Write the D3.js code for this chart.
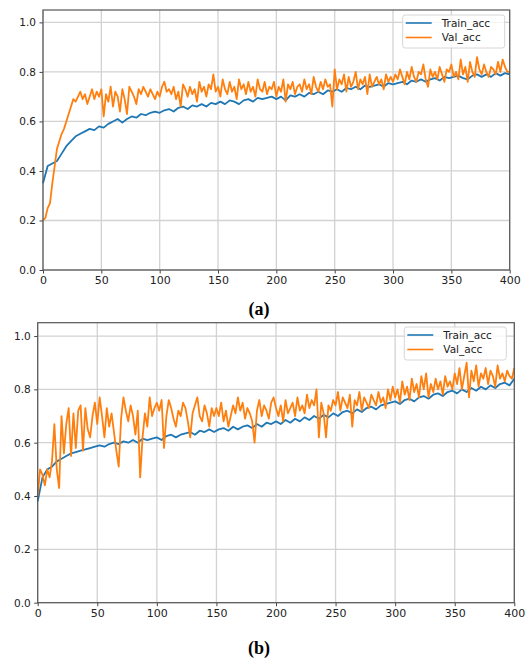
<!DOCTYPE html>
<html>
<head>
<meta charset="utf-8">
<script src="https://cdn.jsdelivr.net/npm/d3@7"></script>
<style>
  body { margin: 0; background: #fff; }
  .tick text { font-family: "DejaVu Sans", sans-serif; fill: #222; }
  .tick line { stroke: #444; }
</style>
</head>
<body>
<div id="chart"></div>
<script>
// data: train every 4 epochs, val every 2 epochs
var seriesNames = ["Train_acc", "Val_acc"];
var seriesColors = ["#1f77b4", "#ff7f0e"];
var xTicks = [0, 50, 100, 150, 200, 250, 300, 350, 400];
var yTicks = [0.0, 0.2, 0.4, 0.6, 0.8, 1.0];
var panelLabels = ["(a)", "(b)"];

var epochsTrain = d3.range(0, 401, 4);
var epochsVal = d3.range(0, 401, 2);

var trainAccA = [
  0.35,0.42,0.43,0.44,0.47,0.50,0.52,0.54,0.55,0.56,0.57,0.565,0.58,0.575,0.59,0.60,0.61,0.595,0.61,0.62,0.615,0.63,0.625,0.635,0.64,
  0.635,0.645,0.65,0.64,0.655,0.66,0.65,0.665,0.66,0.67,0.66,0.675,0.67,0.68,0.67,0.685,0.68,0.67,0.685,0.69,0.68,0.695,0.69,0.695,0.70,
  0.69,0.70,0.685,0.705,0.70,0.71,0.70,0.715,0.71,0.72,0.71,0.725,0.72,0.73,0.72,0.735,0.73,0.74,0.73,0.745,0.74,0.745,0.75,0.74,0.755,
  0.75,0.755,0.76,0.75,0.765,0.76,0.77,0.76,0.77,0.775,0.765,0.78,0.775,0.78,0.785,0.775,0.77,0.785,0.79,0.78,0.79,0.78,0.795,0.785,0.795,
  0.79
];
var valAccA = [
  0.20,0.21,0.25,0.27,0.35,0.42,0.49,0.52,0.55,0.57,0.60,0.63,0.66,0.69,0.68,0.70,0.72,0.69,0.71,0.67,0.70,0.73,0.69,0.72,0.70,
  0.73,0.62,0.71,0.68,0.74,0.66,0.72,0.70,0.64,0.73,0.69,0.63,0.74,0.72,0.70,0.67,0.73,0.71,0.74,0.72,0.70,0.73,0.71,0.69,0.72,
  0.70,0.74,0.76,0.72,0.73,0.71,0.74,0.69,0.72,0.66,0.75,0.73,0.70,0.74,0.71,0.73,0.68,0.76,0.72,0.74,0.70,0.75,0.73,0.79,0.72,
  0.74,0.70,0.77,0.73,0.71,0.76,0.72,0.74,0.69,0.77,0.73,0.75,0.71,0.76,0.72,0.74,0.70,0.77,0.73,0.72,0.76,0.71,0.74,0.73,0.76,
  0.70,0.74,0.72,0.77,0.68,0.75,0.73,0.76,0.71,0.74,0.75,0.72,0.77,0.73,0.75,0.71,0.78,0.74,0.72,0.76,0.73,0.77,0.74,0.75,0.66,
  0.81,0.73,0.77,0.75,0.79,0.72,0.78,0.74,0.76,0.80,0.73,0.77,0.75,0.78,0.71,0.79,0.74,0.76,0.78,0.75,0.77,0.73,0.79,0.76,0.78,
  0.76,0.79,0.77,0.81,0.78,0.75,0.80,0.77,0.82,0.78,0.76,0.80,0.79,0.83,0.77,0.74,0.81,0.78,0.80,0.77,0.82,0.79,0.76,0.81,0.80,
  0.83,0.78,0.80,0.77,0.85,0.79,0.82,0.76,0.84,0.80,0.78,0.86,0.81,0.79,0.83,0.80,0.78,0.82,0.81,0.79,0.84,0.80,0.85,0.82,0.80,
  0.80
];
var trainAccB = [
  0.38,0.47,0.50,0.51,0.53,0.54,0.55,0.56,0.565,0.57,0.575,0.58,0.585,0.59,0.585,0.595,0.60,0.595,0.605,0.60,0.61,0.60,0.615,0.61,0.615,
  0.62,0.61,0.625,0.63,0.62,0.63,0.635,0.64,0.63,0.645,0.64,0.65,0.64,0.65,0.655,0.645,0.66,0.65,0.66,0.665,0.655,0.67,0.66,0.675,0.67,
  0.68,0.67,0.685,0.675,0.69,0.68,0.695,0.685,0.70,0.69,0.705,0.695,0.71,0.70,0.715,0.72,0.71,0.725,0.715,0.73,0.735,0.725,0.74,0.745,0.75,
  0.755,0.745,0.76,0.765,0.755,0.77,0.775,0.765,0.78,0.785,0.775,0.79,0.795,0.785,0.80,0.79,0.805,0.795,0.81,0.80,0.815,0.805,0.82,0.825,0.815,
  0.84
];
var valAccB = [
  0.40,0.50,0.48,0.44,0.50,0.47,0.53,0.67,0.50,0.43,0.70,0.56,0.67,0.73,0.55,0.71,0.58,0.72,0.74,0.57,0.73,0.65,0.62,0.70,0.75,
  0.67,0.77,0.70,0.62,0.73,0.66,0.71,0.64,0.57,0.51,0.69,0.77,0.72,0.68,0.74,0.70,0.63,0.72,0.47,0.62,0.71,0.66,0.77,0.70,0.73,
  0.75,0.72,0.76,0.58,0.70,0.76,0.73,0.69,0.66,0.72,0.70,0.75,0.73,0.68,0.62,0.71,0.74,0.77,0.70,0.68,0.74,0.71,0.66,0.73,0.70,
  0.73,0.70,0.75,0.68,0.72,0.66,0.70,0.74,0.71,0.77,0.72,0.75,0.69,0.73,0.71,0.68,0.60,0.72,0.76,0.70,0.74,0.72,0.69,0.75,0.77,
  0.73,0.70,0.74,0.68,0.76,0.71,0.73,0.75,0.70,0.77,0.72,0.74,0.71,0.78,0.73,0.76,0.74,0.80,0.62,0.75,0.71,0.62,0.74,0.72,0.76,
  0.74,0.79,0.72,0.77,0.75,0.73,0.78,0.66,0.76,0.74,0.79,0.72,0.77,0.75,0.73,0.78,0.76,0.74,0.79,0.75,0.77,0.73,0.80,0.76,0.81,
  0.77,0.80,0.75,0.83,0.78,0.81,0.76,0.84,0.79,0.82,0.77,0.85,0.80,0.86,0.77,0.82,0.79,0.84,0.80,0.83,0.78,0.85,0.81,0.83,0.80,
  0.86,0.82,0.88,0.80,0.85,0.90,0.77,0.87,0.83,0.89,0.81,0.86,0.84,0.88,0.82,0.87,0.85,0.81,0.89,0.84,0.86,0.83,0.87,0.85,0.84,
  0.88
];

var svg = d3.select("#chart").append("svg")
    .attr("width", 530)
    .attr("height", 661)
    .style("display", "block");

// panel boxes (plot area, in px)
var panels = [
  { left: 43, right: 509.7, top: 10, bottom: 270, train: trainAccA, val: valAccA,
    label: panelLabels[0], labelX: 259, labelY: 315, legX: 402.7, legY: 15 },
  { left: 37.7, right: 514.3, top: 322.7, bottom: 602.7, train: trainAccB, val: valAccB,
    label: panelLabels[1], labelX: 259, labelY: 654, legX: 404.3, legY: 327 }
];

panels.forEach(function(p) {
  var x = d3.scaleLinear().domain([0, 400]).range([p.left, p.right]);
  var y = d3.scaleLinear().domain([0, 1.05]).range([p.bottom, p.top]);
  var g = svg.append("g");

  // grid
  g.append("g").selectAll("line").data(xTicks).enter().append("line")
      .attr("x1", d => x(d)).attr("x2", d => x(d))
      .attr("y1", p.top).attr("y2", p.bottom)
      .attr("stroke", "#d2d2d2").attr("stroke-width", 1.3);
  g.append("g").selectAll("line").data(yTicks).enter().append("line")
      .attr("x1", p.left).attr("x2", p.right)
      .attr("y1", d => y(d)).attr("y2", d => y(d))
      .attr("stroke", "#d2d2d2").attr("stroke-width", 1.3);

  // lines
  var line = d3.line().x(d => x(d[0])).y(d => y(d[1]));
  var series = [d3.zip(epochsTrain, p.train), d3.zip(epochsVal, p.val)];
  series.forEach(function(s, i) {
    g.append("path")
        .datum(s)
        .attr("d", line)
        .attr("fill", "none")
        .attr("stroke", seriesColors[i])
        .attr("stroke-width", 1.8)
        .attr("stroke-linejoin", "round");
  });

  // axes
  var xAxis = g.append("g")
      .attr("transform", "translate(0," + p.bottom + ")")
      .call(d3.axisBottom(x).tickValues(xTicks).tickSize(3.5).tickPadding(3));
  var yAxis = g.append("g")
      .attr("transform", "translate(" + p.left + ",0)")
      .call(d3.axisLeft(y).tickValues(yTicks).tickFormat(d3.format(".1f")).tickSize(3.5).tickPadding(3.5));
  xAxis.select(".domain").remove();
  yAxis.select(".domain").remove();
  xAxis.selectAll("text").attr("font-size", 11);
  yAxis.selectAll("text").attr("font-size", 10.5);

  // frame
  g.append("rect")
      .attr("x", p.left).attr("y", p.top)
      .attr("width", p.right - p.left).attr("height", p.bottom - p.top)
      .attr("fill", "none").attr("stroke", "#555").attr("stroke-width", 1.2);

  // legend
  var leg = g.append("g").attr("transform", "translate(" + p.legX + "," + p.legY + ")");
  leg.append("rect")
      .attr("width", 102).attr("height", 33).attr("rx", 2.5)
      .attr("fill", "#fff").attr("fill-opacity", 0.8)
      .attr("stroke", "#d6d6d6").attr("stroke-width", 1);
  seriesNames.forEach(function(name, i) {
    var yy = 8 + i * 14.5;
    leg.append("line")
        .attr("x1", 3).attr("x2", 29)
        .attr("y1", yy).attr("y2", yy)
        .attr("stroke", seriesColors[i]).attr("stroke-width", 1.6);
    leg.append("text")
        .attr("x", 39).attr("y", yy + 3.6)
        .attr("font-family", "DejaVu Sans, sans-serif")
        .attr("font-size", 10.5)
        .attr("fill", "#222")
        .text(name);
  });

  // panel caption
  svg.append("text")
      .attr("x", p.labelX).attr("y", p.labelY)
      .attr("text-anchor", "middle")
      .attr("font-family", "Liberation Serif, Times New Roman, serif")
      .attr("font-weight", "bold")
      .attr("font-size", 18)
      .attr("fill", "#000")
      .text(p.label);
});
</script>
</body>
</html>
